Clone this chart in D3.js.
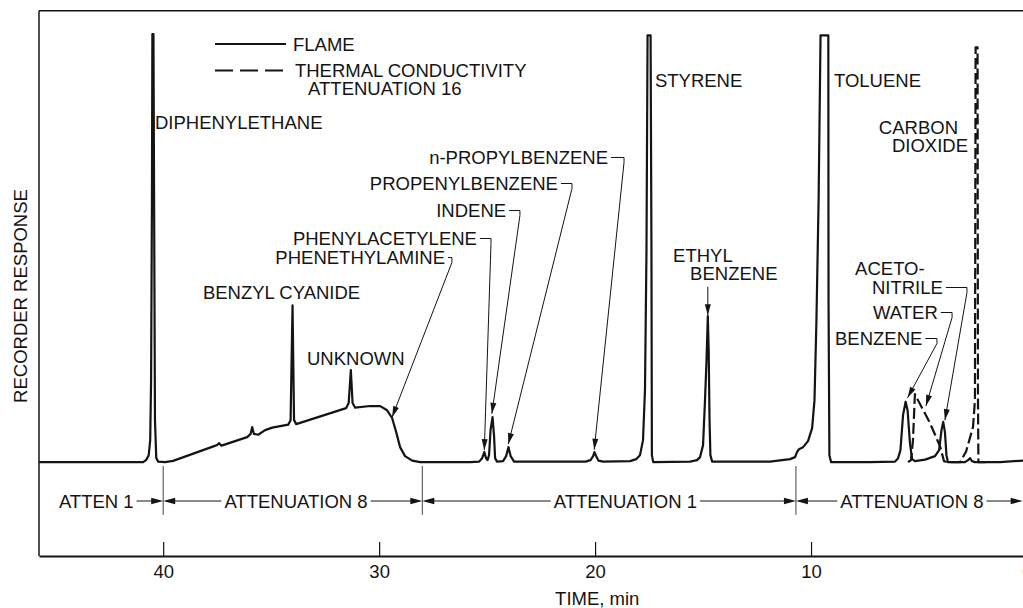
<!DOCTYPE html>
<html><head><meta charset="utf-8">
<script src="https://cdn.jsdelivr.net/npm/d3@7"></script>
<style>
html,body{margin:0;padding:0;background:#fff;}
svg{display:block;}
text{font-family:"Liberation Sans", Arial, sans-serif; font-size:18.5px; fill:#141414;}
</style></head><body>
<svg id="chart" width="1023" height="608"></svg>
<script>
// ---------- data (time in min, recorder response in arbitrary units) ----------
const flameTrace = [
 [45.75,0],[40.93,0],[40.79,0.47],[40.67,1.63],[40.60,5.13],[40.56,19.1],[40.52,61.1],[40.50,99.9],[40.45,99.9],[40.42,61.1],[40.38,9.8],[40.32,0.93],[40.23,0.12],[39.91,0],[39.54,0.3],
 [37.64,3.73],[37.50,4.0],[37.41,4.43],[37.30,3.85],[36.11,5.83],[35.95,6.6],[35.88,8.17],[35.80,6.6],[35.60,6.4],[35.28,7.47],[34.95,8.05],[34.21,8.75],[34.10,9.8],[34.01,36.6],[33.94,9.8],[33.84,8.87],
 [31.53,12.6],[31.41,13.8],[31.31,21.5],[31.23,13.8],[31.11,12.7],[30.42,13.1],[29.95,13.07],[29.63,12.1],[29.40,10.3],[29.21,7.0],[29.03,3.5],[28.80,1.4],[28.47,0.35],[28.10,0],
 [25.79,0],[25.37,0.12],[25.23,0.93],[25.13,2.33],[25.05,0.93],[24.98,0.47],[24.91,1.63],[24.84,7.47],[24.75,10.5],[24.68,6.3],[24.63,0.93],[24.54,0.12],[24.26,0.23],[24.12,1.4],[24.01,3.5],[23.91,1.4],[23.75,0.12],
 [20.44,0.12],[20.21,0.47],[20.09,1.4],[20.03,2.33],[19.95,1.4],[19.84,0.35],[19.63,0.12],[18.38,0.23],[18.10,0.7],[17.92,1.63],[17.78,5.13],[17.69,16.8],[17.62,49.5],[17.57,99.6],[17.43,99.6],[17.39,49.5],[17.37,1.63],[17.31,0],
 [15.60,0.12],[15.28,0.47],[15.14,1.17],[15.00,3.97],[14.91,14.47],[14.84,23.8],[14.78,34.06],[14.74,26.1],[14.70,9.8],[14.66,1.63],[14.58,0.12],
 [12.82,0.12],[11.90,0.12],[10.97,0.7],[10.74,1.17],[10.65,2.33],[10.56,3.03],[10.37,3.5],[10.14,4.9],[9.95,7.93],[9.84,14.47],[9.75,33.1],[9.65,61.1],[9.56,99.6],[9.20,99.6],[9.19,37.8],[9.15,1.63],[9.07,0],
 [7.27,0],[6.11,0.12],[5.97,0.93],[5.86,2.8],[5.74,10.97],[5.62,14.1],[5.53,12.1],[5.42,4.43],[5.32,0.7],[5.19,0.23],[4.72,0.58],[4.26,1.4],[4.07,2.8],[3.96,7.47],[3.88,9.4],[3.80,7.0],[3.73,1.63],[3.66,0],
 [2.87,0],[2.73,0.47],[2.64,0.93],[2.55,0.23],[2.41,0],[1.25,0],[0.19,0.35],[-0.2,0.4]
];
const tcTrace = [
 [5.51,0],[5.37,0.47],[5.28,5.13],[5.19,15.87],[5.05,14.47],[4.49,9.1],[4.03,3.73],[3.84,0.2],[3.70,0],[3.10,0],[2.82,2.5],[2.50,8.17],[2.41,14.5],[2.38,96.8],[2.29,96.8],[2.27,14.5],[2.25,0],[1.9,0]
];
const xTicks = [40, 30, 20, 10, 0];
const attenBreaks = [40, 28, 10.7];
const attenLabels = ["ATTEN 1", "ATTENUATION 8", "ATTENUATION 1", "ATTENUATION 8"];
const attenLabelTimes = [43.1, 33.85, 18.6, 5.33];
const attenSpans = [[45.75, 40], [40, 28], [28, 10.7], [10.7, 0.2]];

// annotation text anchors (data units: time, response)
const plainLabels = [
 {text:"DIPHENYLETHANE", t:40.38, r:77.7, anchor:"start"},
 {text:"STYRENE", t:17.23, r:87.5, anchor:"start"},
 {text:"TOLUENE", t:8.94, r:87.5, anchor:"start"},
 {text:"CARBON", t:3.195, r:76.57, anchor:"end"},
 {text:"DIOXIDE", t:2.73, r:72.37, anchor:"end"},
 {text:"BENZYL CYANIDE", t:38.16, r:38.07, anchor:"start"},
 {text:"UNKNOWN", t:33.34, r:22.67, anchor:"start"},
 {text:"ETHYL", t:16.39, r:46.7, anchor:"start"},
 {text:"BENZENE", t:15.60, r:42.5, anchor:"start"},
 {text:"ACETO-", t:7.96, r:43.67, anchor:"start"}
];
const leaderLabels = [
 {text:"n-PROPYLBENZENE", t:19.40, r:69.57, anchor:"end", hookT:18.66, tipT:20.04, tipR:2.9},
 {text:"PROPENYLBENZENE", t:21.72, r:63.5, anchor:"end", hookT:21.07, tipT:24.02, tipR:4.2},
 {text:"INDENE", t:24.12, r:57.2, anchor:"end", hookT:23.48, tipT:24.78, tipR:11.3},
 {text:"PHENYLACETYLENE", t:25.47, r:50.67, anchor:"end", hookT:24.82, tipT:25.13, tipR:2.8},
 {text:"PHENETHYLAMINE", t:26.95, r:46.23, anchor:"end", hookT:26.63, tipT:29.40, tipR:10.5},
 {text:"NITRILE", t:7.18, r:39.23, anchor:"start", hookT:2.78, tipT:3.80, tipR:9.8},
 {text:"WATER", t:7.13, r:33.4, anchor:"start", hookT:3.47, tipT:4.68, tipR:13.1},
 {text:"BENZENE", t:8.89, r:27.33, anchor:"start", hookT:4.17, tipT:5.53, tipR:15.0}
];
const ethylArrow = {t:14.78, fromR:40.9, tipR:34.3};

// ---------- drawing ----------
const W = 1023, H = 608;
const x = d3.scaleLinear().domain([45.75, 0]).range([39, 1027]);
const y = d3.scaleLinear().domain([-21.9, 105.5]).range([556, 10]);
const svg = d3.select("#chart");
const ink = "#141414";

function arrowHead(tx, ty, fx, fy, len, hw) {
  const dx = tx - fx, dy = ty - fy, L = Math.hypot(dx, dy);
  const ux = dx / L, uy = dy / L;
  const bx = tx - ux * len, by = ty - uy * len;
  return `M${tx},${ty}L${bx - uy * hw},${by + ux * hw}L${bx + uy * hw},${by - ux * hw}Z`;
}

// frame
svg.append("line").attr("x1", x(45.75)).attr("x2", x(45.75)).attr("y1", y(105.3)).attr("y2", y(-21.9))
  .attr("stroke", ink).attr("stroke-width", 1.5);
svg.append("line").attr("x1", x(45.75)).attr("x2", W + 5).attr("y1", y(105.3)).attr("y2", y(105.3))
  .attr("stroke", ink).attr("stroke-width", 1.5);

// x axis
const axis = d3.axisBottom(x).tickValues(xTicks).tickSizeInner(-14).tickSizeOuter(0).tickPadding(9).tickFormat(d3.format("d"));
const gAxis = svg.append("g").attr("transform", `translate(0,${y(-21.9)})`).call(axis);
gAxis.attr("font-size", null).attr("font-family", null);
gAxis.select(".domain").attr("stroke", ink).attr("stroke-width", 2);
gAxis.selectAll(".tick line").attr("stroke", ink).attr("stroke-width", 1.2);
gAxis.selectAll(".tick text").attr("fill", ink);

svg.append("text").attr("x", x(19.9)).attr("y", 605).attr("text-anchor", "middle").text("TIME, min");
svg.append("text").attr("transform", "translate(20.5,296) rotate(-90)").attr("text-anchor", "middle")
  .attr("dominant-baseline", "central").text("RECORDER RESPONSE");

// legend
const legY1 = y(97.57), legY2 = y(91.38);
svg.append("line").attr("x1", x(37.6)).attr("x2", x(34.31)).attr("y1", legY1).attr("y2", legY1)
  .attr("stroke", ink).attr("stroke-width", 2);
svg.append("text").attr("x", x(33.99)).attr("y", y(95.93)).text("FLAME");
svg.append("line").attr("x1", x(37.6)).attr("x2", x(34.27)).attr("y1", legY2).attr("y2", legY2)
  .attr("stroke", ink).attr("stroke-width", 2).attr("stroke-dasharray", "18,7");
svg.append("text").attr("x", x(33.9)).attr("y", y(89.84)).text("THERMAL CONDUCTIVITY");
svg.append("text").attr("x", x(33.29)).attr("y", y(85.67)).text("ATTENUATION 16");

// traces
const line = d3.line().x(d => x(d[0])).y(d => y(d[1]));
svg.append("path").datum(flameTrace).attr("d", line).attr("fill", "none").attr("stroke", ink)
  .attr("stroke-width", 2.2).attr("stroke-linejoin", "round");
svg.append("path").datum(tcTrace).attr("d", line).attr("fill", "none").attr("stroke", ink)
  .attr("stroke-width", 2.2).attr("stroke-dasharray", "11,4").attr("stroke-linejoin", "round");

// plain labels
plainLabels.forEach(d => {
  svg.append("text").attr("x", x(d.t)).attr("y", y(d.r)).attr("text-anchor", d.anchor).text(d.text);
});

// leader labels
leaderLabels.forEach(d => {
  const t = svg.append("text").attr("x", x(d.t)).attr("y", y(d.r)).attr("text-anchor", d.anchor).text(d.text);
  const len = t.node().getComputedTextLength();
  const endX = d.anchor === "end" ? x(d.t) : x(d.t) + len;
  const yc = y(d.r) - 6.5;
  const hx = x(d.hookT), tx = x(d.tipT), ty = y(d.tipR);
  svg.append("path").attr("d", `M${endX + 3},${yc}H${hx}V${yc + 5}L${tx},${ty}`)
    .attr("fill", "none").attr("stroke", ink).attr("stroke-width", 1);
  svg.append("path").attr("d", arrowHead(tx, ty, hx, yc + 5, 11, 3)).attr("fill", ink);
});

// ethyl benzene arrow
{
  const ex = x(ethylArrow.t), y0 = y(ethylArrow.fromR), y1 = y(ethylArrow.tipR);
  svg.append("line").attr("x1", ex).attr("x2", ex).attr("y1", y0).attr("y2", y1).attr("stroke", ink).attr("stroke-width", 1);
  svg.append("path").attr("d", arrowHead(ex, y1, ex, y0, 11, 3)).attr("fill", ink);
}

// attenuation row
const ay = y(-9.07);
attenBreaks.forEach(b => {
  svg.append("line").attr("x1", x(b)).attr("x2", x(b)).attr("y1", y(-0.9)).attr("y2", y(-12.3))
    .attr("stroke", ink).attr("stroke-width", 0.8);
});
attenLabels.forEach((lab, i) => {
  const t = svg.append("text").attr("x", x(attenLabelTimes[i])).attr("y", ay).attr("text-anchor", "middle")
    .attr("dominant-baseline", "central").text(lab);
  const len = t.node().getComputedTextLength();
  const cx = x(attenLabelTimes[i]);
  const [from, to] = attenSpans[i];
  const left = x(from), right = x(to);
  // right arrow
  svg.append("line").attr("x1", cx + len / 2 + 3).attr("x2", right - 6).attr("y1", ay).attr("y2", ay)
    .attr("stroke", ink).attr("stroke-width", 1);
  svg.append("path").attr("d", arrowHead(right, ay, right - 20, ay, 12, 3.2)).attr("fill", ink);
  if (i > 0) {
    svg.append("line").attr("x1", left + 6).attr("x2", cx - len / 2 - 3).attr("y1", ay).attr("y2", ay)
      .attr("stroke", ink).attr("stroke-width", 1);
    svg.append("path").attr("d", arrowHead(left, ay, left + 20, ay, 12, 3.2)).attr("fill", ink);
  }
});
</script>
</body></html>
